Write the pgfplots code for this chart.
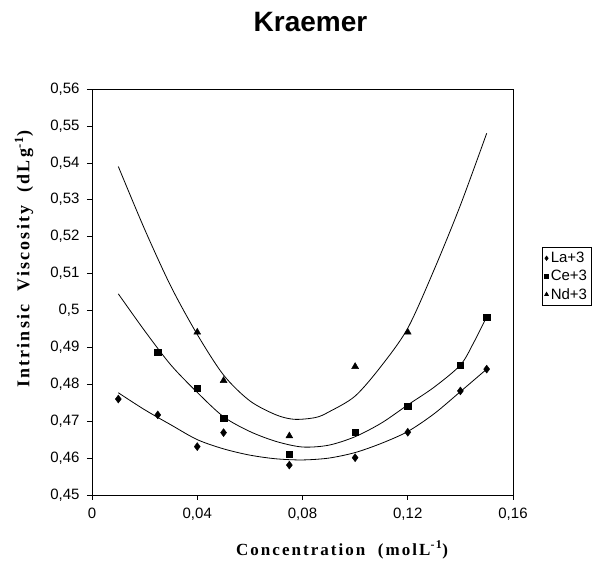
\documentclass[border=0pt]{standalone}
\usepackage{fontspec}
\setmainfont{Liberation Sans}
\newfontfamily\labfont[LetterSpace=12]{Liberation Serif}
\usepackage{pgfplots}
\pgfplotsset{compat=1.18}
\begin{document}
\begin{tikzpicture}
\begin{axis}[
  at={(0pt,0pt)}, anchor=south west,
  scale only axis, width=421pt, height=406pt,
  xmin=0, xmax=0.16, ymin=0.45, ymax=0.56,
  xtick={0,0.04,0.08,0.12,0.16},
  ytick={0.45,0.46,0.47,0.48,0.49,0.5,0.51,0.52,0.53,0.54,0.55,0.56},
  scaled ticks=false,
  tick align=outside, tick pos=left, major tick length=5pt,
  /pgf/number format/.cd, use comma, fixed, precision=2, assume math mode=true,
  /pgfplots/.cd,
  tick label style={font=\fontsize{15}{17}\selectfont},
  xticklabel style={yshift=-4pt},
  yticklabel style={xshift=-4pt},
  axis line style={line width=0.8pt},
  every tick/.style={black, line width=0.6pt},
  xlabel={\labfont\bfseries Concentration\ \ (molL\textsuperscript{-1})},
  xlabel style={at={(axis description cs:0.594,-0.135)}, anchor=center, font=\fontsize{17}{19}\selectfont},
  ylabel={\labfont\bfseries Intrinsic\ \ Viscosity\ \ (dLg\textsuperscript{-1})},
  ylabel style={at={(axis description cs:-0.1615,0.581)}, anchor=center, rotate=0, font=\fontsize{18}{20}\selectfont},
  legend style={at={(axis description cs:1.069,0.611)}, anchor=north west, draw=black, line width=0.6pt,
    font=\fontsize{15}{17}\selectfont, row sep=2pt, inner xsep=2pt, inner ysep=3pt},
  legend cell align=left,
  legend image code/.code={\draw[#1, mark size=2.2pt] plot coordinates {(0.1cm,0cm)};},
]
% fitted curves
\addplot[black, line width=0.8pt, smooth, forget plot] coordinates {
(0.01,0.4777)(0.02,0.4731)(0.03,0.4690)(0.04,0.4650)(0.05,0.4625)(0.06,0.4608)
(0.07,0.4598)(0.08,0.4595)(0.09,0.4600)(0.10,0.4615)(0.11,0.4640)(0.12,0.4672)
(0.13,0.4720)(0.14,0.4780)(0.15,0.4841)};
\addplot[black, line width=0.8pt, smooth, forget plot] coordinates {
(0.01,0.5045)(0.02,0.4945)(0.03,0.4852)(0.04,0.4778)(0.05,0.4712)(0.06,0.4672)
(0.07,0.4645)(0.08,0.4630)(0.09,0.4635)(0.10,0.4658)(0.11,0.4695)(0.12,0.4744)
(0.13,0.4792)(0.14,0.4852)(0.145,0.4912)(0.15,0.4983)};
\addplot[black, line width=0.8pt, smooth, forget plot] coordinates {
(0.01,0.5390)(0.02,0.5220)(0.03,0.5065)(0.04,0.4935)(0.05,0.4825)(0.06,0.4755)
(0.07,0.4717)(0.077,0.4705)(0.085,0.4710)(0.09,0.4725)(0.10,0.4768)(0.11,0.4850)
(0.12,0.4952)(0.13,0.5110)(0.14,0.5285)(0.15,0.5480)};
% data points
\addplot[only marks, mark=diamond*, mark size=4pt, black] coordinates {
(0.01,0.4760)(0.025,0.4717)(0.04,0.4631)(0.05,0.4669)(0.075,0.4581)
(0.1,0.4601)(0.12,0.4670)(0.14,0.4782)(0.15,0.4841)};
\addlegendentry{La+3}
\addplot[only marks, mark=square*, mark size=3.3pt, black] coordinates {
(0.025,0.4887)(0.04,0.4789)(0.05,0.4708)(0.075,0.4611)
(0.1,0.4670)(0.12,0.4741)(0.14,0.4852)(0.15,0.4982)};
\addlegendentry{Ce+3}
\addplot[only marks, mark=triangle*, mark size=4pt, black] coordinates {
(0.04,0.4941)(0.05,0.4810)(0.075,0.4660)(0.1,0.4848)(0.12,0.4941)};
\addlegendentry{Nd+3}
\end{axis}
\node[anchor=base, font=\fontsize{28}{30}\selectfont\bfseries] at (218.5pt,463.3pt) {Kraemer};
\pgfresetboundingbox
\useasboundingbox (-92pt,-66pt) rectangle (523pt,495pt);
\end{tikzpicture}
\end{document}
